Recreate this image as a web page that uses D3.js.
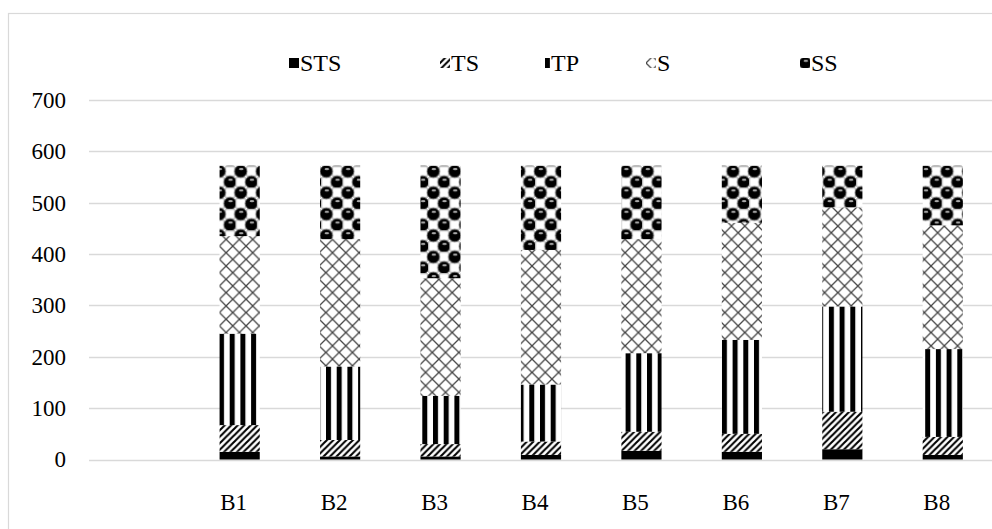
<!DOCTYPE html>
<html>
<head>
<meta charset="utf-8">
<script src="https://cdn.jsdelivr.net/npm/d3@7/dist/d3.min.js"></script>
<style>
  html, body { margin: 0; padding: 0; background: #fff; }
  svg { display: block; }
  text { font-family: "Liberation Serif", "Times New Roman", serif; fill: #000; }
</style>
</head>
<body>
<svg id="chart" width="992" height="529"></svg>
<script>
// ---- data ----
const categories = ["B1", "B2", "B3", "B4", "B5", "B6", "B7", "B8"];
const seriesNames = ["STS", "TS", "TP", "S", "SS"];
const STS = [15, 6, 6, 9, 17, 15, 20, 9];
const TS  = [52, 32, 24, 26, 37, 35, 73, 35];
const TP  = [178, 143, 94, 111, 153, 183, 205, 171];
const S   = [190, 248, 229, 262, 222, 228, 193, 241];
const SS  = [137, 143, 219, 164, 143, 111, 81, 116];
const yTicks = [0, 100, 200, 300, 400, 500, 600, 700];

const seriesValues = { STS, TS, TP, S, SS };
const rows = categories.map((c, i) => {
  const r = { cat: c };
  seriesNames.forEach(k => r[k] = seriesValues[k][i]);
  return r;
});

const svg = d3.select("#chart");
const FONT = "Liberation Serif";

// ---- patterns ----
const defs = svg.append("defs");
// TS: diagonal stripes
const tS = 6.5;
const pTS = defs.append("pattern").attr("id", "pTS").attr("patternUnits", "userSpaceOnUse")
  .attr("width", tS).attr("height", tS);
pTS.append("rect").attr("width", tS).attr("height", tS).attr("fill", "#fff");
pTS.append("path").attr("d", `M-2,2 L2,-2 M0,${tS} L${tS},0 M${tS - 2},${tS + 2} L${tS + 2},${tS - 2}`)
  .attr("stroke", "#000").attr("stroke-width", 2.1);
// TP: vertical stripes
const pTP = defs.append("pattern").attr("id", "pTP").attr("patternUnits", "userSpaceOnUse")
  .attr("width", 10.7).attr("height", 10).attr("x", 219);
pTP.append("rect").attr("width", 10.7).attr("height", 10).attr("fill", "#fff");
pTP.append("rect").attr("width", 5).attr("height", 10).attr("fill", "#000");
// S: diamond lattice
const sS = 13.3;
const pS = defs.append("pattern").attr("id", "pS").attr("patternUnits", "userSpaceOnUse")
  .attr("width", sS).attr("height", sS);
pS.append("rect").attr("width", sS).attr("height", sS).attr("fill", "#fff");
pS.append("path").attr("d", `M0,0 L${sS},${sS} M${sS},0 L0,${sS}`)
  .attr("stroke", "#444").attr("stroke-width", 1.3);
// SS: spheres
const sSS = 21.4, h = sSS / 2;
const pSS = defs.append("pattern").attr("id", "pSS").attr("patternUnits", "userSpaceOnUse")
  .attr("width", sSS).attr("height", sSS).attr("y", 166);
pSS.append("rect").attr("width", sSS).attr("height", sSS).attr("fill", "#fff");
[[h * 1.5, h / 2], [h / 2, h * 1.5]].forEach(([cx, cy]) => {
  pSS.append("rect").attr("x", cx - 4.6).attr("y", cy - 4.6).attr("width", 9.2).attr("height", 9.2)
    .attr("fill", "#fff").attr("stroke", "#999").attr("stroke-width", 0.8);
});
[[h / 2, h / 2], [h * 1.5, h * 1.5], [h / 2 + sSS, h / 2], [h / 2, h / 2 + sSS]].forEach(([cx, cy]) => {
  pSS.append("circle").attr("cx", cx).attr("cy", cy).attr("r", 6.2)
    .attr("fill", "#000").attr("stroke", "#666").attr("stroke-width", 0.8);
  pSS.append("ellipse").attr("cx", cx + 0.5).attr("cy", cy - 2.3).attr("rx", 2.3).attr("ry", 1.1)
    .attr("fill", "#aaa");
});
const fills = { STS: "#000", TS: "url(#pTS)", TP: "url(#pTP)", S: "url(#pS)", SS: "url(#pSS)" };

// ---- frame ----
svg.append("rect").attr("x", 8.5).attr("y", 13.5).attr("width", 1000).attr("height", 540)
  .attr("fill", "none").attr("stroke", "#d9d9d9").attr("stroke-width", 1.2);

// ---- scales ----
const x = d3.scaleBand().domain([""].concat(categories)).range([89, 993])
  .paddingInner(0.6).paddingOuter(0.3);
const y = d3.scaleLinear().domain([0, 700]).range([459.5, 100]);

// gridlines
svg.append("g").selectAll("line").data(yTicks).join("line")
  .attr("x1", 89).attr("x2", 992)
  .attr("y1", d => Math.round(y(d)) + 0.5).attr("y2", d => Math.round(y(d)) + 0.5)
  .attr("stroke", "#d9d9d9").attr("stroke-width", 1.5);

// y axis labels
const yAxis = d3.axisLeft(y).tickValues(yTicks).tickSize(0).tickPadding(0);
const gy = svg.append("g").attr("transform", "translate(66,0)").call(yAxis)
  .attr("font-family", FONT).attr("font-size", 23);
gy.select(".domain").remove();
gy.selectAll("text").attr("fill", "#000");

// x axis labels
const xAxis = d3.axisBottom(x).tickValues(categories).tickSize(0).tickPadding(0);
const gx = svg.append("g").attr("transform", "translate(-6,494)").call(xAxis)
  .attr("font-family", FONT).attr("font-size", 23);
gx.select(".domain").remove();
gx.selectAll("text").attr("fill", "#000");

// ---- bars ----
const stack = d3.stack().keys(seriesNames);
const stacked = stack(rows);
svg.append("g").selectAll("g").data(stacked).join("g")
  .attr("fill", d => fills[d.key])
  .selectAll("rect").data(d => d).join("rect")
  .attr("x", d => x(d.data.cat))
  .attr("width", x.bandwidth())
  .attr("y", d => y(d[1]))
  .attr("height", d => y(d[0]) - y(d[1]));

// ---- legend ----
const legendX = [289, 440, 540, 646, 800];
const lg = svg.append("g").selectAll("g").data(seriesNames).join("g")
  .attr("transform", (d, i) => `translate(${legendX[i]},63)`);
lg.append("rect").attr("x", 0).attr("y", -5).attr("width", 10).attr("height", 10)
  .attr("fill", d => fills[d]);
lg.append("text").attr("x", 11).attr("y", 0).attr("dy", "0.35em")
  .attr("font-family", FONT).attr("font-size", 24).text(d => d);
</script>
</body>
</html>
